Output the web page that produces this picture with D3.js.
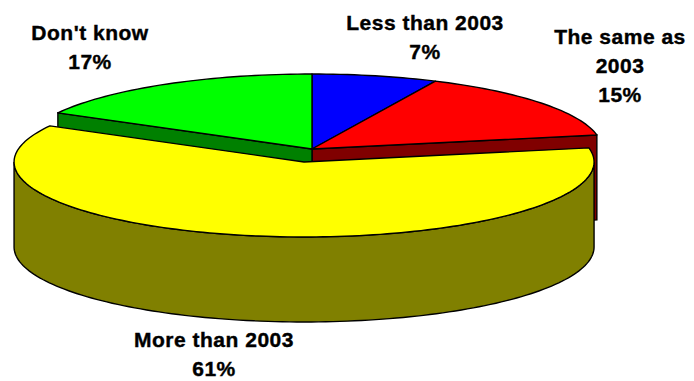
<!DOCTYPE html>
<html>
<head>
<meta charset="utf-8">
<script src="https://cdn.jsdelivr.net/npm/d3@7"></script>
<style>
  body { margin: 0; background: #fff; }
  svg { display: block; }
  text { font-family: "Liberation Sans", Arial, sans-serif; font-weight: bold; font-size: 21px; fill: #000;
         stroke: #000; stroke-width: 0.4px; letter-spacing: 0.5px; }
</style>
</head>
<body>
<script>
//chart data
const categories = ["Less than 2003", "The same as 2003", "More than 2003", "Don't know"];
const values = [7, 15, 61, 17];
const labelLines = [["Less than 2003"], ["The same as", "2003"], ["More than 2003"], ["Don't know"]];
const topColors = ["#0000ff", "#ff0000", "#ffff00", "#00ff00"];
const sideColors = ["#000080", "#800000", "#808000", "#008000"];
const explode = [0, 0, 0.175, 0];

//layout
const width = 694, height = 381;
const cx = 312, cy = 149, rx = 290, ry = 75, depth = 85;
//first-line baseline of each label
const labelAnchor = [[425, 30], [620, 44], [214, 347], [90, 40]];
const lineGap = 29;

const svg = d3
  .select("body")
  .append("svg")
  .attr("width", width)
  .attr("height", height);

const pie = d3.pie().sort(null).value((d) => d.value);
const slices = pie(values.map((v, i) => ({ value: v, i: i })));

slices.forEach((s) => {
  const mid = (s.startAngle + s.endAngle) / 2;
  const e = explode[s.data.i];
  s.cx = cx + rx * e * Math.sin(mid);
  s.cy = cy - ry * e * Math.cos(mid);
});

//point on the top ellipse of a slice
function rim(s, a, dz) {
  return [s.cx + rx * Math.sin(a), s.cy - ry * Math.cos(a) + (dz || 0)];
}
function arcPts(s, a0, a1, dz) {
  const n = Math.max(2, Math.ceil(Math.abs(a1 - a0) * 40));
  return d3.range(n + 1).map((k) => rim(s, a0 + ((a1 - a0) * k) / n, dz));
}
const line = d3.line();

function topPath(s) {
  return line([[s.cx, s.cy]].concat(arcPts(s, s.startAngle, s.endAngle))) + "Z";
}
function rimPath(s) {
  const a0 = Math.max(s.startAngle, Math.PI / 2);
  const a1 = Math.min(s.endAngle, (3 * Math.PI) / 2);
  if (a1 <= a0) return null;
  return line(arcPts(s, a0, a1).concat(arcPts(s, a1, a0, depth))) + "Z";
}
function facePath(s, a) {
  const p = rim(s, a);
  return line([[s.cx, s.cy], p, [p[0], p[1] + depth], [s.cx, s.cy + depth]]) + "Z";
}

const g = svg.append("g");
const flat = slices.filter((s) => !explode[s.data.i]);
const out = slices.filter((s) => explode[s.data.i]);
const n = slices.length;

//cut faces of the slices next to the pulled-out one
flat.forEach((s) => {
  const i = s.data.i;
  if (explode[(i + n - 1) % n]) {
    g.append("path").attr("d", facePath(s, s.startAngle))
      .attr("fill", sideColors[i]).attr("stroke", "#000").attr("stroke-width", 1.4);
  }
  if (explode[(i + 1) % n]) {
    g.append("path").attr("d", facePath(s, s.endAngle))
      .attr("fill", sideColors[i]).attr("stroke", "#000").attr("stroke-width", 1.4);
  }
});

//rims and tops
[flat, out].forEach((group) => {
  group.forEach((s) => {
    const d = rimPath(s);
    if (d) {
      g.append("path").attr("d", d)
        .attr("fill", sideColors[s.data.i]).attr("stroke", "#000").attr("stroke-width", 1.4);
    }
  });
  group.forEach((s) => {
    g.append("path").attr("d", topPath(s))
      .attr("fill", topColors[s.data.i]).attr("stroke", "#000").attr("stroke-width", 1.4)
      .attr("stroke-linejoin", "round");
  });
});

//labels
const total = d3.sum(values);
labelLines.forEach((lines, i) => {
  const t = svg.append("text").attr("text-anchor", "middle");
  const all = lines.concat([Math.round((values[i] / total) * 100) + "%"]);
  all.forEach((txt, k) => {
    t.append("tspan")
      .attr("x", labelAnchor[i][0])
      .attr("y", labelAnchor[i][1] + k * lineGap)
      .text(txt);
  });
});
</script>
</body>
</html>
